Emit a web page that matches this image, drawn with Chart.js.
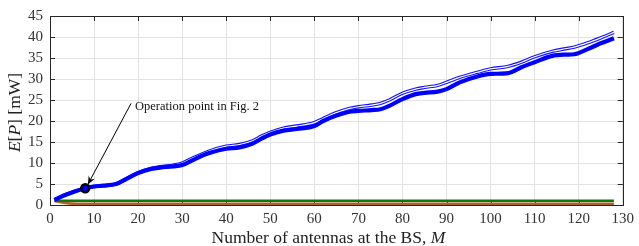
<!DOCTYPE html>
<html>
<head>
<meta charset="utf-8">
<script src="https://cdn.jsdelivr.net/npm/chart.js@4.4.1/dist/chart.umd.min.js"></script>
<style>
html,body{margin:0;padding:0;background:#fff;}
#c{display:block;}
</style>
</head>
<body>
<canvas id="c" width="639" height="246"></canvas>
<script>
// ---- data ----
const antennas = [1,3,5,8,10,12,15,17,20,23,25,28,30,33,36,40,43,46,48,50,53,56,60,62,65,68,70,73,75,77,80,83,85,88,90,93,97,100,104,107,110,114,117,119,122,125,128];
const powerThick = [1.2,2.2,3.0,4.0,4.4,4.6,5.0,6.0,7.6,8.6,8.9,9.2,9.5,11.0,12.3,13.4,13.7,14.6,15.8,16.8,17.7,18.1,18.8,20.0,21.3,22.2,22.4,22.6,22.8,23.6,25.2,26.4,26.7,27.0,27.6,29.2,30.6,31.2,31.4,32.8,34.0,35.5,35.8,35.9,37.1,38.5,39.7];
const powerThin = [1.2,2.2,3.0,4.0,4.4,4.6,5.0,6.1,7.7,8.7,9.1,9.5,10.0,11.5,12.8,14.0,14.4,15.3,16.4,17.3,18.3,18.8,19.6,20.6,22.0,23.0,23.4,23.8,24.2,25.0,26.6,27.6,28.0,28.5,29.2,30.4,31.6,32.4,33.0,34.0,35.3,36.6,37.2,37.6,38.6,39.8,41.1];
const greenX = [1,128];
const greenY = [1.0,1.0];
const brownX = [1,3,5,8,128];
const brownY = [1.0,0.55,0.32,0.28,0.28];
const opPointX = [8];
const opPointY = [4.0];
const annotText = "Operation point in Fig. 2";
const annotTextPos = [19.3, 23.5];
const arrowFrom = [18.4, 24.2];
const arrowTo = [8.6, 4.9];
const xTicksMin = 0, xTicksMax = 130, xStep = 10;
const yTicksMin = 0, yTicksMax = 45, yStep = 5;
const xTitle = ["Number of antennas at the BS, ", "M"];
const yTitle = [["E", true], ["[", false], ["P", true], ["]", false], [" [mW]", false]];

const pts = (xs, ys) => xs.map((x, i) => ({x: x, y: ys[i]}));
const SERIF = "'Liberation Serif', 'Times New Roman', serif";

const framePlugin = {
  id: 'frame',
  beforeDatasetsDraw(chart) {
    const {ctx, chartArea: a, scales} = chart;
    ctx.save();
    ctx.strokeStyle = '#262626';
    ctx.lineWidth = 1;
    const L = 5;
    scales.x.ticks.forEach(t => {
      const px = Math.round(scales.x.getPixelForValue(t.value)) + 0.5;
      ctx.beginPath();
      ctx.moveTo(px, a.bottom); ctx.lineTo(px, a.bottom - L);
      ctx.moveTo(px, a.top); ctx.lineTo(px, a.top + L);
      ctx.stroke();
    });
    scales.y.ticks.forEach(t => {
      const py = Math.round(scales.y.getPixelForValue(t.value)) + 0.5;
      ctx.beginPath();
      ctx.moveTo(a.left, py); ctx.lineTo(a.left + L, py);
      ctx.moveTo(a.right, py); ctx.lineTo(a.right - L, py);
      ctx.stroke();
    });
    ctx.strokeRect(Math.round(a.left) + 0.5, Math.round(a.top) + 0.5, Math.round(a.right - a.left), Math.round(a.bottom - a.top));
    ctx.restore();
  },
  afterDraw(chart) {
    const {ctx, chartArea: a, scales} = chart;
    ctx.save();
    // x title
    ctx.fillStyle = '#222';
    ctx.textBaseline = 'alphabetic';
    const fNorm = "17.5px " + SERIF, fIt = "italic 17.5px " + SERIF;
    ctx.font = fNorm;
    const w1 = ctx.measureText(xTitle[0]).width;
    ctx.font = fIt;
    const w2 = ctx.measureText(xTitle[1]).width;
    let x0 = (a.left + a.right) / 2 - (w1 + w2) / 2 - 8;
    ctx.font = fNorm; ctx.fillText(xTitle[0], x0, 243);
    ctx.font = fIt; ctx.fillText(xTitle[1], x0 + w1, 243);
    // y title (rotated)
    let total = 0;
    yTitle.forEach(([s, it]) => { ctx.font = (it ? fIt : fNorm); total += ctx.measureText(s).width; });
    ctx.translate(20, (a.top + a.bottom) / 2 + 2);
    ctx.rotate(-Math.PI / 2);
    let cx = -total / 2;
    yTitle.forEach(([s, it]) => { ctx.font = (it ? fIt : fNorm); ctx.fillText(s, cx, 0); cx += ctx.measureText(s).width; });
    ctx.setTransform(1, 0, 0, 1, 0, 0);
    // annotation
    const tx = scales.x.getPixelForValue(annotTextPos[0]);
    const ty = scales.y.getPixelForValue(annotTextPos[1]);
    ctx.font = "12.5px " + SERIF;
    ctx.fillStyle = '#111';
    ctx.textBaseline = 'middle';
    ctx.fillText(annotText, tx, ty);
    const ax0 = scales.x.getPixelForValue(arrowFrom[0]), ay0 = scales.y.getPixelForValue(arrowFrom[1]);
    const ax1 = scales.x.getPixelForValue(arrowTo[0]), ay1 = scales.y.getPixelForValue(arrowTo[1]);
    ctx.strokeStyle = '#000'; ctx.lineWidth = 1;
    ctx.beginPath(); ctx.moveTo(ax0, ay0); ctx.lineTo(ax1, ay1); ctx.stroke();
    const ang = Math.atan2(ay1 - ay0, ax1 - ax0);
    const hl = 9, hw = 0.4;
    ctx.beginPath();
    ctx.moveTo(ax1, ay1);
    ctx.lineTo(ax1 - hl * Math.cos(ang - hw), ay1 - hl * Math.sin(ang - hw));
    ctx.lineTo(ax1 - hl * 0.6 * Math.cos(ang), ay1 - hl * 0.6 * Math.sin(ang));
    ctx.lineTo(ax1 - hl * Math.cos(ang + hw), ay1 - hl * Math.sin(ang + hw));
    ctx.closePath();
    ctx.fillStyle = '#000';
    ctx.fill();
    ctx.restore();
  }
};

new Chart(document.getElementById('c'), {
  type: 'line',
  data: {
    datasets: [
      {data: pts(antennas, powerThin), borderColor: '#ffffff', borderWidth: 1.2, pointRadius: 0, cubicInterpolationMode: 'monotone', order: 3},
      {data: pts(antennas, powerThin), borderColor: '#1010ff', borderWidth: 3.4, pointRadius: 0, cubicInterpolationMode: 'monotone', order: 4},
      {data: pts(antennas, powerThick), borderColor: '#0000ff', borderWidth: 4.2, pointRadius: 0, cubicInterpolationMode: 'monotone', order: 1},
      {data: pts(greenX, greenY), borderColor: '#0a7a0a', borderWidth: 2.5, pointRadius: 0, order: 5},
      {data: pts(brownX, brownY), borderColor: '#b0602a', borderWidth: 2.8, pointRadius: 0, cubicInterpolationMode: 'monotone', order: 6},
      {data: pts(opPointX, opPointY), showLine: false, pointRadius: 4, pointBackgroundColor: '#0000ff', pointBorderColor: '#000', pointBorderWidth: 2.5, order: 0}
    ]
  },
  options: {
    responsive: false,
    devicePixelRatio: 1,
    animation: false,
    events: [],
    layout: {padding: {top: 15, right: 16, left: 0, bottom: 0}},
    plugins: {legend: {display: false}, tooltip: {enabled: false}},
    scales: {
      x: {
        type: 'linear', min: xTicksMin, max: xTicksMax,
        ticks: {stepSize: xStep, color: '#333', font: {family: SERIF, size: 15}, padding: 5, maxRotation: 0},
        grid: {color: '#e3e3e3', drawTicks: false},
        border: {display: false},
        afterFit(s) { s.height = 41; }
      },
      y: {
        min: yTicksMin, max: yTicksMax,
        ticks: {stepSize: yStep, color: '#333', font: {family: SERIF, size: 15}, padding: 7},
        grid: {color: '#e3e3e3', drawTicks: false},
        border: {display: false},
        afterFit(s) { s.width = 50; }
      }
    }
  },
  plugins: [framePlugin]
});
</script>
</body>
</html>
